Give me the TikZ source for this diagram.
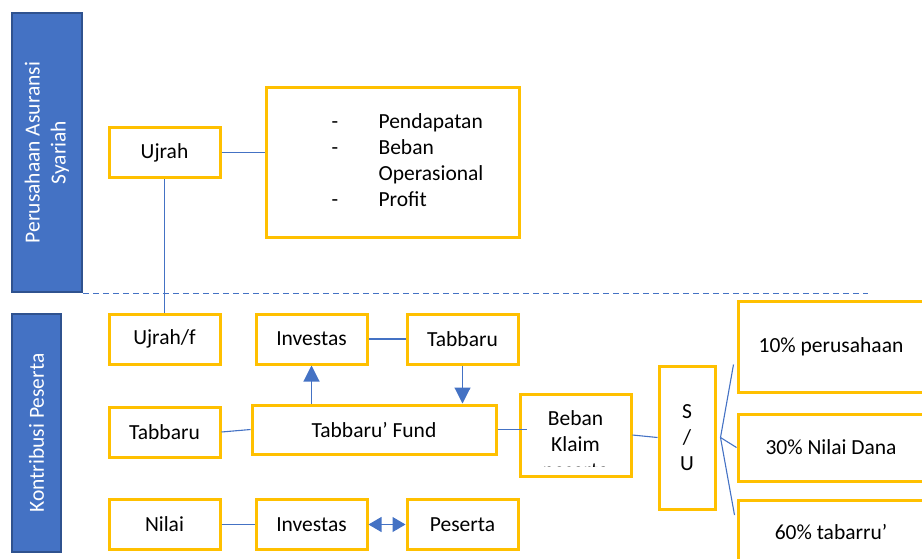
\documentclass[tikz,border=0pt]{standalone}
\usepackage{fontspec}
\setmainfont{Carlito}
\usetikzlibrary{positioning,arrows.meta}
\definecolor{kuning}{HTML}{FFC000}
\definecolor{biru}{HTML}{4472C4}
\definecolor{birutua}{HTML}{2F528F}
\tikzset{
    every node/.style={font=\fontsize{21.5}{26}\selectfont},
    kotak/.style={draw=kuning, line width=3pt, fill=white, inner sep=0pt,
        minimum width=111pt, minimum height=50pt, align=center},
    pita/.style={draw=birutua, line width=1.5pt, fill=biru, text=white,
        rotate=90, inner sep=0pt, align=center},
    garis/.style={biru, line width=1.1pt},
    panah/.style={garis, -{Triangle[width=16pt,length=16pt]}},
    panahdua/.style={garis, {Triangle[width=15pt,length=13pt]}-{Triangle[width=15pt,length=13pt]}}
}
\begin{document}
\begin{tikzpicture}[x=1pt,y=-1pt]
                \clip (0,0) rectangle (922,558);
                \node[pita, minimum width=279pt, minimum height=70pt] (perusahaan) at (47,152.5) {Perusahaan Asuransi\\Syariah};
                \node[pita, minimum width=238pt, minimum height=49pt] (kontribusi) at (36.5,433) {Kontribusi Peserta};
                \draw[biru, line width=0.9pt, dash pattern=on 6pt off 4pt] (83,293) -- (868,293);
                \node[kotak] (ujrah) at (164.5,152.5) {Ujrah};
                \node[kotak, minimum width=253pt, minimum height=150pt] (rincian) at (392.5,162)
                    {\begin{tabular}{@{\hspace{30pt}}p{47pt}@{}l@{}}
                        - & Pendapatan\\
                        - & Beban\\
                          & Operasional\\
                        - & Profit
                    \end{tabular}};
                \node[kotak] (ujrahf) at (164.5,339) {Ujrah/f};
                \node[kotak] (tabbarukiri) at (164.5,432) {Tabbaru};
                \node[kotak] (nilai) at (164.5,524.5) {Nilai};
                \node[kotak] (investasatas) at (311.5,339) {Investas};
                \node[kotak] (tabbaruatas) at (462.5,339) {Tabbaru};
                \node[kotak, minimum width=244pt, minimum height=49pt] (fund) at (374,429.5) {Tabbaru’ Fund};
                \node[kotak] (investasbawah) at (311.5,524.5) {Investas};
                \node[kotak] (peserta) at (462.5,524.5) {Peserta};
                \node[kotak, minimum height=82pt, path picture={
                        \clip (path picture bounding box.north west) rectangle ([yshift=10pt]path picture bounding box.south east);
                        \node[align=center] at ([yshift=-11pt]path picture bounding box.center) {Beban\\Klaim\\peserta};
                    }] (beban) at (575.5,435) {};
                \node[kotak, minimum width=56pt, minimum height=143pt] (su) at (687,437.5) {S\\/\\U};
                \node[kotak, minimum width=186pt, minimum height=91pt] (persen1) at (831,346.5) {10\% perusahaan};
                \node[kotak, minimum width=186pt, minimum height=67pt] (persen2) at (831,447.5) {30\% Nilai Dana};
                \node[kotak, minimum width=186pt, minimum height=64pt] (persen3) at (831,532) {60\% tabarru’};
                \coordinate (cabang) at ([xshift=4pt]su.east);
                \draw[garis] (ujrah.east) -- (ujrah.east -| rincian.west);
                \draw[garis] (ujrah.south) -- (ujrahf.north);
                \draw[garis] (tabbarukiri.east) -- (fund.west);
                \draw[garis] (investasatas.east) -- (tabbaruatas.west);
                \draw[panah] (investasatas.south |- fund.north) -- (investasatas.south);
                \draw[panah] (tabbaruatas.south) -- (tabbaruatas.south |- fund.north);
                \draw[garis] (fund.east) -- ([xshift=8pt]fund.east -| beban.west);
                \draw[garis] (beban.east) -- (su.west);
                \draw[garis] (cabang) -- ([xshift=-3pt,yshift=-18pt]persen1.west);
                \draw[garis] (cabang) -- (persen2.west);
                \draw[garis] (cabang) -- ([xshift=-2pt,yshift=17pt]persen3.west);
                \draw[garis] (nilai.east) -- (investasbawah.west);
                \draw[panahdua] (investasbawah.east) -- (peserta.west);
            \end{tikzpicture}
\end{document}
